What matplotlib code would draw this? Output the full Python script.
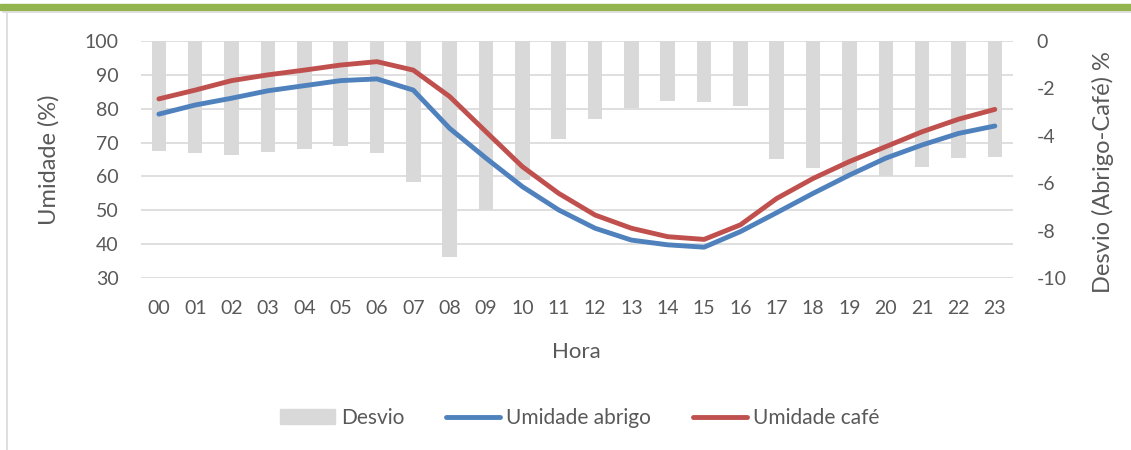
import matplotlib.pyplot as plt
from matplotlib.patches import Patch, Rectangle
from matplotlib.lines import Line2D

hours = ["%02d" % h for h in range(24)]
desvio = [-4.63, -4.74, -4.80, -4.68, -4.57, -4.42, -4.74, -5.94, -9.13, -7.13,
          -5.87, -4.14, -3.28, -2.84, -2.52, -2.57, -2.74, -4.99, -5.37, -5.65,
          -5.68, -5.33, -4.95, -4.91]
umidade_abrigo = [78.4, 81.1, 83.1, 85.3, 86.8, 88.3, 88.8, 85.5, 74.2, 65.4,
                  57.0, 50.1, 44.7, 41.2, 39.8, 39.1, 43.7, 49.3, 55.0, 60.4,
                  65.4, 69.3, 72.7, 74.9]
umidade_cafe = [82.9, 85.5, 88.3, 90.0, 91.4, 92.9, 93.9, 91.4, 83.6, 73.2,
                62.9, 55.0, 48.6, 44.7, 42.2, 41.4, 45.7, 53.5, 59.4, 64.4,
                68.8, 73.2, 76.9, 79.8]

plt.rcParams['font.family'] = ['Lato', 'DejaVu Sans']
plt.rcParams['axes.unicode_minus'] = False
grey = "#595959"
blue = "#4F81BD"
red = "#C0504D"
barc = "#D9D9D9"

fig = plt.figure(figsize=(11.31, 4.5), dpi=100)

# green band and frame
fig.patches.append(Rectangle((0, 1 - 9.5/450), 1, 5.5/450, transform=fig.transFigure,
                             color="#92B54F", zorder=0))
fig.lines.append(Line2D([3/1131, 1], [1 - 12/450, 1 - 12/450], transform=fig.transFigure,
                        color="#D9D9D9", lw=1.2))
fig.lines.append(Line2D([7/1131, 7/1131], [0, 1 - 12/450], transform=fig.transFigure,
                        color="#D9D9D9", lw=1.2))

ax = fig.add_axes([140.7/1131, 1 - 278/450, 872.3/1131, 237/450])
ax2 = ax.twinx()

x = list(range(24))
ax2.bar(x, desvio, width=0.4, color=barc, label="Desvio")
ax2.set_ylim(-10, 0)
ax2.set_yticks(range(-10, 1, 2))

ax.set_zorder(ax2.get_zorder() + 1)
ax.patch.set_visible(False)
ax.plot(x, umidade_abrigo, color=blue, lw=3.5, solid_capstyle='round', label="Umidade abrigo")
ax.plot(x, umidade_cafe, color=red, lw=3.5, solid_capstyle='round', label="Umidade café")
ax.set_ylim(30, 100)
ax.set_yticks(range(30, 101, 10))
ax.set_xlim(-0.5, 23.5)
ax.set_xticks(x)
ax.set_xticklabels(hours)
ax.yaxis.grid(True, color="#D9D9D9", lw=1.2)
ax.set_axisbelow(True)

for a in (ax, ax2):
    for s in a.spines.values():
        s.set_visible(False)
    a.tick_params(length=0, colors=grey, labelsize=14)
ax.tick_params(axis='y', pad=16)
ax.tick_params(axis='x', pad=16)
ax2.tick_params(axis='y', pad=17)

ax.set_xlabel("Hora", fontsize=16, color=grey)
ax.set_ylabel("Umidade (%)", fontsize=17, color=grey)
ax.yaxis.set_label_coords(-0.0925, 0.5)
ax.xaxis.set_label_coords(0.5, -0.27)
ax2.set_ylabel("Desvio (Abrigo-Café) %", fontsize=17, color=grey, rotation=90)
ax2.yaxis.set_label_coords(1.0906, 0.447)

handles = [Patch(color=barc, label="Desvio"),
           Line2D([], [], color=blue, lw=3.5, solid_capstyle='round', label="Umidade abrigo"),
           Line2D([], [], color=red, lw=3.5, solid_capstyle='round', label="Umidade café")]
leg = fig.legend(handles=handles, loc='center', bbox_to_anchor=(580/1131, 1 - 418/450),
                 ncol=3, frameon=False, fontsize=15, handlelength=2.6, handletextpad=0.3,
                 columnspacing=2.0)
for t in leg.get_texts():
    t.set_color(grey)

fig.savefig("out.png", dpi=100)
